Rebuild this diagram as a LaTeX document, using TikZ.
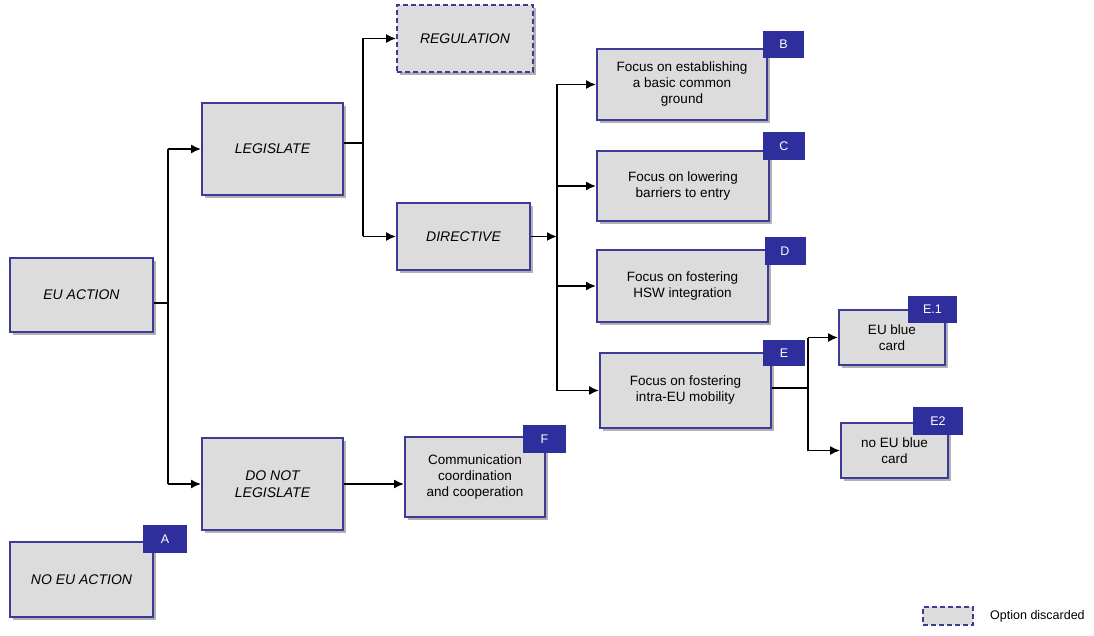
\documentclass[tikz,border=0pt]{standalone}
\usepackage{fontspec}
\setmainfont{Liberation Sans}
\usetikzlibrary{arrows.meta,shadows,calc}
\definecolor{boxfill}{HTML}{DCDCDC}
\definecolor{boxline}{HTML}{3C3C96}
\definecolor{tagfill}{HTML}{2E2E9C}
\begin{document}
\begin{tikzpicture}[x=1pt,y=-1pt,
  box/.style={draw=boxline, line width=1.8pt, fill=boxfill, align=center, inner sep=2pt,
    font=\fontsize{13.5}{16}\selectfont,
    drop shadow={shadow xshift=3pt,shadow yshift=-3pt,fill=black,opacity=0.3}},
  ibox/.style={box, font=\fontsize{14}{17}\selectfont\itshape},
  disc/.style={dash pattern=on 5pt off 3pt},
  tag/.style={fill=tagfill, text=white, font=\fontsize{12.5}{14}\selectfont, inner sep=0pt},
  conn/.style={line width=1.8pt, black},
  arr/.style={conn, -{Latex[length=10pt,width=9pt]}}]
\useasboundingbox (0,0) rectangle (1094,636);
\fill[white] (0,0) rectangle (1094,636);

% boxes
\node[ibox, minimum width=143pt, minimum height=74pt] (eu) at (81.5,295) {EU ACTION};
\node[ibox, minimum width=141pt, minimum height=92pt] (leg) at (272.5,149) {LEGISLATE};
\node[ibox, minimum width=141pt, minimum height=92pt] (dnl) at (272.5,484) {DO NOT\\LEGISLATE};
\node[ibox, disc, minimum width=136pt, minimum height=67pt] (reg) at (465,38.5) {REGULATION};
\node[ibox, minimum width=133pt, minimum height=67pt] (dir) at (463.5,236.5) {DIRECTIVE};
\node[box, minimum width=170pt, minimum height=71pt] (nB) at (682,84.5) {Focus on establishing\\a basic common\\ground};
\node[box, minimum width=172pt, minimum height=70pt] (nC) at (683,186) {Focus on lowering\\barriers to entry};
\node[box, minimum width=171pt, minimum height=72pt] (nD) at (682.5,286) {Focus on fostering\\HSW integration};
\node[box, minimum width=171pt, minimum height=75pt] (nE) at (685.5,390.5) {Focus on fostering\\intra-EU mobility};
\node[box, minimum width=106pt, minimum height=55pt] (nE1) at (892,337.5) {EU blue\\card};
\node[box, minimum width=107pt, minimum height=55pt] (nE2) at (894.5,450.5) {no EU blue\\card};
\node[box, minimum width=140pt, minimum height=80pt] (nF) at (475,477) {Communication\\coordination\\and cooperation};
\node[ibox, minimum width=143pt, minimum height=75pt] (noeu) at (81.5,579.5) {NO EU ACTION};

% tags
\node[tag, minimum width=44pt, minimum height=28pt] (tA) at (165,539) {A};
\node[tag, minimum width=41pt, minimum height=27pt] (tB) at (783.5,44.5) {B};
\node[tag, minimum width=42pt, minimum height=28pt] (tC) at (784,146) {C};
\node[tag, minimum width=41pt, minimum height=27pt] (tD) at (785,251) {D};
\node[tag, minimum width=42pt, minimum height=26pt] (tE) at (784,353) {E};
\node[tag, minimum width=49pt, minimum height=27pt] (tE1) at (932.5,309.5) {E.1};
\node[tag, minimum width=50pt, minimum height=28pt] (tE2) at (938,421) {E2};
\node[tag, minimum width=43pt, minimum height=28pt] (tF) at (544.5,439) {F};

% junctions
\coordinate (j1) at (168,303);
\coordinate (j2) at (363,143);
\coordinate (j3) at (557,237);
\coordinate (j4) at (808,388);

\draw[conn] (eu.east |- j1) -- (j1);
\draw[conn] (j1 |- leg.west) -- (j1 |- dnl.west);
\draw[arr] (j1 |- leg.west) -- (leg.west);
\draw[arr] (j1 |- dnl.west) -- (dnl.west);

\draw[conn] (leg.east |- j2) -- (j2);
\draw[conn] (j2 |- reg.west) -- (j2 |- dir.west);
\draw[arr] (j2 |- reg.west) -- (reg.west);
\draw[arr] (j2 |- dir.west) -- (dir.west);

\draw[arr] (dir.east) -- (j3 |- dir.east);
\draw[conn] (j3 |- nB.west) -- (j3 |- nE.west);
\draw[arr] (j3 |- nB.west) -- (nB.west);
\draw[arr] (j3 |- nC.west) -- (nC.west);
\draw[arr] (j3 |- nD.west) -- (nD.west);
\draw[arr] (j3 |- nE.west) -- (nE.west);

\draw[conn] (nE.east |- j4) -- (j4);
\draw[conn] (j4 |- nE1.west) -- (j4 |- nE2.west);
\draw[arr] (j4 |- nE1.west) -- (nE1.west);
\draw[arr] (j4 |- nE2.west) -- (nE2.west);

\draw[arr] (dnl.east) -- (nF.west |- dnl.east);

% legend
\node[draw=boxline, line width=1.8pt, disc, fill=boxfill, minimum width=50pt, minimum height=18pt, inner sep=0pt] (lgbox) at (948,616) {};
\node[anchor=west, font=\fontsize{12.5}{14}\selectfont, inner sep=0pt] (lgtext) at (990,616) {Option discarded};
\end{tikzpicture}
\end{document}
